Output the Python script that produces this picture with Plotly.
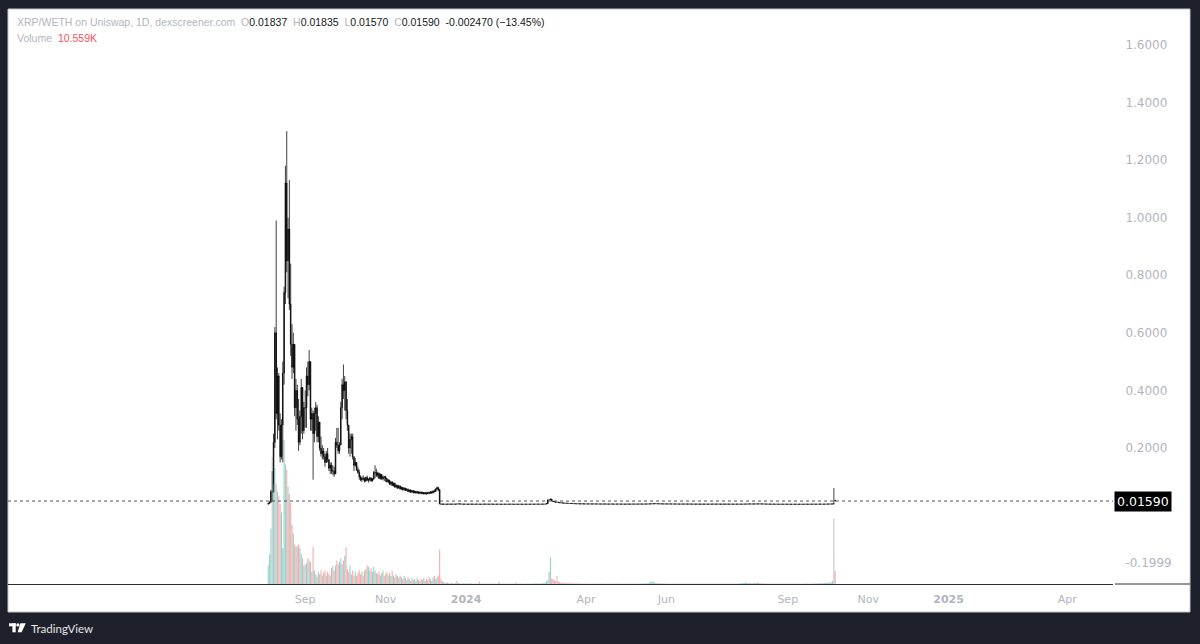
import pandas as pd
import plotly.graph_objects as go

# ---------------- data ----------------
start_date = "2023-08-04"

# Active trading period (Aug 4 2023 .. Dec 12 2023), daily candles
active_open = [
    0.005, 0.008, 0.012, 0.048, 0.048, 0.220, 0.600, 0.320, 0.450, 0.280,
    0.170, 0.280, 0.460, 0.740, 1.120, 0.850, 0.960, 0.700, 0.560, 0.480,
    0.560, 0.340, 0.400, 0.300, 0.220, 0.310, 0.410, 0.260, 0.340, 0.340,
    0.450, 0.420, 0.500, 0.300, 0.320, 0.250, 0.320, 0.340, 0.240, 0.290,
    0.200, 0.180, 0.190, 0.170, 0.150, 0.180, 0.160, 0.130, 0.140, 0.120,
    0.120, 0.110, 0.220, 0.210, 0.190, 0.210, 0.340, 0.420, 0.400, 0.430,
    0.330, 0.280, 0.200, 0.230, 0.240, 0.170, 0.140, 0.150, 0.125, 0.115,
    0.100, 0.090, 0.095, 0.092, 0.085, 0.098, 0.088, 0.090, 0.096, 0.086,
    0.092, 0.115, 0.115, 0.105, 0.112, 0.095, 0.108, 0.093, 0.100, 0.100,
    0.094, 0.083, 0.088, 0.075, 0.082, 0.070, 0.078, 0.065, 0.070, 0.062,
    0.068, 0.058, 0.063, 0.055, 0.060, 0.053, 0.057, 0.049, 0.054, 0.047,
    0.052, 0.045, 0.050, 0.044, 0.048, 0.043, 0.047, 0.042, 0.046, 0.041,
    0.045, 0.041, 0.046, 0.043, 0.048, 0.044, 0.051, 0.049, 0.058, 0.062,
    0.055,
]
active_high = [
    0.010, 0.015, 0.055, 0.120, 0.250, 0.620, 0.990, 0.480, 0.460, 0.320,
    0.300, 0.500, 0.760, 1.180, 1.300, 1.000, 1.130, 0.840, 0.630, 0.600,
    0.560, 0.440, 0.420, 0.370, 0.330, 0.440, 0.410, 0.360, 0.400, 0.480,
    0.500, 0.540, 0.500, 0.340, 0.330, 0.340, 0.360, 0.350, 0.310, 0.290,
    0.240, 0.210, 0.200, 0.180, 0.190, 0.200, 0.160, 0.150, 0.150, 0.140,
    0.135, 0.235, 0.270, 0.270, 0.220, 0.360, 0.440, 0.490, 0.450, 0.430,
    0.370, 0.280, 0.250, 0.250, 0.250, 0.170, 0.165, 0.150, 0.135, 0.125,
    0.105, 0.100, 0.105, 0.098, 0.100, 0.104, 0.095, 0.100, 0.098, 0.096,
    0.120, 0.140, 0.128, 0.118, 0.115, 0.112, 0.110, 0.105, 0.102, 0.104,
    0.096, 0.092, 0.090, 0.085, 0.084, 0.080, 0.079, 0.074, 0.072, 0.072,
    0.070, 0.066, 0.065, 0.064, 0.062, 0.060, 0.059, 0.056, 0.056, 0.054,
    0.053, 0.052, 0.051, 0.050, 0.049, 0.049, 0.048, 0.048, 0.047, 0.047,
    0.046, 0.048, 0.047, 0.050, 0.049, 0.053, 0.056, 0.060, 0.066, 0.065,
    0.058,
]
active_low = [
    0.004, 0.006, 0.010, 0.013, 0.045, 0.200, 0.300, 0.230, 0.260, 0.150,
    0.160, 0.150, 0.420, 0.700, 0.810, 0.720, 0.680, 0.520, 0.440, 0.460,
    0.310, 0.260, 0.280, 0.190, 0.210, 0.250, 0.230, 0.250, 0.270, 0.270,
    0.380, 0.400, 0.260, 0.260, 0.090, 0.220, 0.260, 0.220, 0.220, 0.190,
    0.170, 0.160, 0.160, 0.135, 0.150, 0.150, 0.120, 0.110, 0.110, 0.105,
    0.100, 0.110, 0.200, 0.180, 0.180, 0.210, 0.300, 0.370, 0.330, 0.300,
    0.260, 0.180, 0.170, 0.180, 0.160, 0.120, 0.135, 0.120, 0.110, 0.090,
    0.085, 0.082, 0.088, 0.080, 0.083, 0.086, 0.080, 0.085, 0.082, 0.084,
    0.090, 0.095, 0.100, 0.098, 0.092, 0.090, 0.090, 0.088, 0.085, 0.082,
    0.080, 0.078, 0.072, 0.070, 0.068, 0.066, 0.062, 0.060, 0.058, 0.058,
    0.055, 0.055, 0.052, 0.052, 0.050, 0.050, 0.046, 0.046, 0.044, 0.044,
    0.042, 0.043, 0.041, 0.042, 0.040, 0.041, 0.039, 0.040, 0.038, 0.039,
    0.038, 0.040, 0.039, 0.042, 0.041, 0.043, 0.046, 0.048, 0.052, 0.050,
    0.005,
]
active_close = [
    0.008, 0.012, 0.048, 0.048, 0.220, 0.600, 0.320, 0.450, 0.280, 0.170,
    0.280, 0.460, 0.740, 1.120, 0.850, 0.960, 0.700, 0.560, 0.480, 0.560,
    0.340, 0.400, 0.300, 0.220, 0.310, 0.410, 0.260, 0.340, 0.340, 0.450,
    0.420, 0.500, 0.300, 0.320, 0.250, 0.320, 0.340, 0.240, 0.290, 0.200,
    0.180, 0.190, 0.170, 0.150, 0.180, 0.160, 0.130, 0.140, 0.120, 0.120,
    0.110, 0.220, 0.210, 0.190, 0.210, 0.340, 0.420, 0.400, 0.430, 0.330,
    0.280, 0.200, 0.230, 0.240, 0.170, 0.140, 0.150, 0.125, 0.115, 0.100,
    0.090, 0.095, 0.092, 0.085, 0.098, 0.088, 0.090, 0.096, 0.086, 0.092,
    0.115, 0.115, 0.105, 0.112, 0.095, 0.108, 0.093, 0.100, 0.100, 0.094,
    0.083, 0.088, 0.075, 0.082, 0.070, 0.078, 0.065, 0.070, 0.062, 0.068,
    0.058, 0.063, 0.055, 0.060, 0.053, 0.057, 0.049, 0.054, 0.047, 0.052,
    0.045, 0.050, 0.044, 0.048, 0.043, 0.047, 0.042, 0.046, 0.041, 0.045,
    0.041, 0.046, 0.043, 0.048, 0.044, 0.051, 0.049, 0.058, 0.062, 0.055,
    0.006,
]
active_volume_k = [
    15, 24, 45, 103, 81, 94, 81, 75, 71, 65,
    58, 29, 117, 97, 93, 79, 73, 66, 48, 41,
    32, 30, 31, 32, 29, 24, 21, 15, 16, 17,
    21, 19, 18, 10, 30, 11, 8, 6, 10, 8,
    11, 7, 9, 11, 6.5, 10, 8, 7, 13, 15,
    11, 15, 19, 16, 18, 21, 16, 19, 23, 30,
    12, 10, 15, 8, 11, 7, 10, 6.5, 9, 11,
    8, 10, 7, 11, 12, 15, 14, 11, 13, 10,
    14, 11, 9, 8, 10, 7, 9, 11, 6.5, 8,
    10, 7, 9, 6.5, 11, 7, 5.5, 8, 6.5, 5,
    7, 5.5, 4, 6.5, 5, 3.2, 5.5, 4, 2.5, 5,
    3.2, 4, 2.5, 5, 3.2, 2.5, 4, 3.2, 5, 2.5,
    4, 3.2, 5.5, 4, 2.5, 5, 6.5, 4, 5.5, 7,
    28,
]

# Quiet period (Dec 13 2023 .. Oct 5 2024): daily closes and volumes
flat_close = [
    0.0050, 0.0055, 0.0050, 0.0052, 0.0048, 0.0050, 0.0053, 0.0050, 0.0049, 0.0051,
    0.0050, 0.0052, 0.0055, 0.0060, 0.0057, 0.0054, 0.0052, 0.0050, 0.0051, 0.0049,
    0.0048, 0.0050, 0.0052, 0.0050, 0.0049, 0.0047, 0.0049, 0.0051, 0.0050, 0.0048,
    0.0047, 0.0049, 0.0050, 0.0052, 0.0051, 0.0049, 0.0048, 0.0050, 0.0051, 0.0049,
    0.0048, 0.0047, 0.0049, 0.0050, 0.0048, 0.0047, 0.0046, 0.0048, 0.0049, 0.0048,
    0.0047, 0.0048, 0.0050, 0.0049, 0.0048, 0.0047, 0.0046, 0.0048, 0.0047, 0.0046,
    0.0047, 0.0048, 0.0047, 0.0046, 0.0048, 0.0049, 0.0048, 0.0047, 0.0049, 0.0050,
    0.0048, 0.0049, 0.0050, 0.0051, 0.0049, 0.0048, 0.0050, 0.0051, 0.0052, 0.0055,
    0.0065, 0.0200, 0.0200, 0.0230, 0.0160, 0.0140, 0.0130, 0.0120, 0.0120, 0.0110,
    0.0100, 0.0095, 0.0090, 0.0088, 0.0085, 0.0082, 0.0080, 0.0078, 0.0075, 0.0072,
    0.0070, 0.0068, 0.0066, 0.0065, 0.0063, 0.0062, 0.0060, 0.0061, 0.0060, 0.0059,
    0.0058, 0.0059, 0.0058, 0.0057, 0.0056, 0.0057, 0.0058, 0.0057, 0.0056, 0.0055,
    0.0056, 0.0055, 0.0054, 0.0055, 0.0056, 0.0055, 0.0054, 0.0053, 0.0054, 0.0055,
    0.0054, 0.0053, 0.0052, 0.0053, 0.0054, 0.0053, 0.0052, 0.0053, 0.0052, 0.0051,
    0.0052, 0.0053, 0.0052, 0.0051, 0.0052, 0.0053, 0.0054, 0.0053, 0.0052, 0.0053,
    0.0054, 0.0055, 0.0054, 0.0053, 0.0054, 0.0055, 0.0056, 0.0057, 0.0058, 0.0060,
    0.0062, 0.0065, 0.0068, 0.0066, 0.0064, 0.0063, 0.0062, 0.0060, 0.0059, 0.0058,
    0.0057, 0.0058, 0.0057, 0.0056, 0.0057, 0.0056, 0.0055, 0.0056, 0.0055, 0.0054,
    0.0055, 0.0054, 0.0053, 0.0054, 0.0055, 0.0054, 0.0053, 0.0054, 0.0053, 0.0052,
    0.0053, 0.0052, 0.0051, 0.0052, 0.0053, 0.0052, 0.0051, 0.0052, 0.0051, 0.0050,
    0.0051, 0.0052, 0.0051, 0.0050, 0.0051, 0.0052, 0.0053, 0.0052, 0.0051, 0.0052,
    0.0053, 0.0052, 0.0051, 0.0052, 0.0051, 0.0050, 0.0051, 0.0052, 0.0051, 0.0050,
    0.0051, 0.0050, 0.0049, 0.0050, 0.0051, 0.0050, 0.0049, 0.0050, 0.0051, 0.0052,
    0.0053, 0.0054, 0.0055, 0.0056, 0.0057, 0.0056, 0.0055, 0.0056, 0.0057, 0.0058,
    0.0059, 0.0060, 0.0058, 0.0057, 0.0056, 0.0055, 0.0054, 0.0053, 0.0052, 0.0051,
    0.0050, 0.0049, 0.0050, 0.0049, 0.0048, 0.0049, 0.0048, 0.0047, 0.0048, 0.0047,
    0.0048, 0.0049, 0.0048, 0.0047, 0.0048, 0.0047, 0.0046, 0.0047, 0.0048, 0.0047,
    0.0046, 0.0047, 0.0048, 0.0047, 0.0046, 0.0047, 0.0048, 0.0049, 0.0048, 0.0047,
    0.0048, 0.0049, 0.0050, 0.0049, 0.0048, 0.0049, 0.0050, 0.0051, 0.0050, 0.0049,
    0.0050, 0.0051, 0.0052, 0.0053, 0.0054, 0.0055, 0.0056, 0.0058,
]
flat_volume_k = [
    4, 2.5, 1.5, 1, 0.8, 1.2, 0.6, 0.5, 0.8, 0.6,
    0.5, 0.7, 2.5, 1, 0.6, 0.5, 0.4, 0.6, 0.5, 0.4,
    0.5, 0.4, 0.6, 0.5, 0.3, 0.4, 0.5, 0.4, 0.3, 2.2,
    0.4, 0.3, 0.5, 0.4, 0.3, 0.4, 0.3, 0.5, 0.4, 0.3,
    0.3, 0.4, 0.3, 0.5, 1.8, 0.4, 0.3, 0.4, 0.3, 0.4,
    0.3, 0.4, 0.5, 0.3, 0.4, 0.3, 0.4, 1.5, 0.3, 0.4,
    0.5, 0.4, 0.3, 0.4, 0.3, 0.4, 0.5, 0.4, 0.3, 0.4,
    0.5, 0.4, 0.6, 0.5, 0.4, 0.6, 0.5, 0.7, 0.8, 1.2,
    2, 3.5, 10, 22, 4.5, 4, 3, 2.5, 6.5, 2,
    1.5, 1.2, 1, 0.8, 1, 0.7, 0.6, 0.8, 0.6, 0.5,
    0.6, 0.5, 0.4, 0.5, 0.6, 0.4, 0.5, 0.4, 0.3, 0.4,
    0.5, 0.4, 0.3, 0.4, 0.3, 0.5, 0.4, 0.3, 0.4, 0.3,
    0.4, 0.3, 0.4, 0.5, 0.3, 0.4, 0.3, 0.4, 0.3, 0.4,
    0.3, 0.4, 0.3, 0.4, 0.5, 0.3, 0.4, 0.3, 0.4, 0.3,
    0.4, 0.3, 0.4, 0.3, 0.4, 0.3, 0.4, 0.5, 0.4, 0.3,
    0.4, 0.5, 0.4, 0.5, 0.6, 0.5, 0.7, 0.8, 1, 1.5,
    2.2, 1.8, 1.2, 0.8, 0.7, 0.6, 0.5, 0.6, 0.5, 0.4,
    0.4, 0.5, 0.4, 0.3, 0.4, 0.3, 0.4, 0.3, 0.4, 0.3,
    0.4, 0.3, 0.4, 0.3, 0.4, 0.3, 0.4, 0.3, 0.4, 0.3,
    0.3, 0.4, 0.3, 0.4, 0.3, 0.4, 0.3, 0.4, 0.3, 0.4,
    0.3, 0.4, 0.3, 0.4, 0.3, 0.4, 0.3, 0.4, 0.3, 0.4,
    0.3, 0.4, 0.3, 0.4, 0.3, 0.4, 0.3, 0.4, 0.3, 0.4,
    0.3, 0.4, 0.3, 0.4, 0.3, 0.4, 0.5, 0.6, 0.7, 0.9,
    1.1, 1.3, 1.2, 1, 0.9, 0.8, 0.7, 0.8, 0.9, 1,
    1.2, 1, 0.8, 0.7, 0.6, 0.5, 0.4, 0.5, 0.4, 0.3,
    0.4, 0.3, 0.4, 0.3, 0.4, 0.3, 0.4, 0.3, 0.4, 0.3,
    0.4, 0.3, 0.4, 0.3, 0.4, 0.3, 0.4, 0.3, 0.4, 0.3,
    0.4, 0.3, 0.4, 0.3, 0.4, 0.3, 0.4, 0.5, 0.4, 0.3,
    0.4, 0.5, 0.4, 0.5, 0.6, 0.5, 0.6, 0.7, 0.8, 0.7,
    0.8, 0.9, 1, 1.1, 1.2, 1.3, 1.5, 2.5,
]

# Last two sessions (Oct 6 - Oct 7 2024)
tail_open = [0.0058, 0.01837]
tail_high = [0.0610, 0.01835]
tail_low = [0.0055, 0.01570]
tail_close = [0.0058, 0.01590]
tail_volume_k = [53.0, 10.559]

price_ticks = [-0.1999, 0.2, 0.4, 0.6, 0.8, 1.0, 1.2, 1.4, 1.6]
time_ticks = ["2023-09-01", "2023-11-01", "2024-01-01", "2024-04-01", "2024-06-01",
              "2024-09-01", "2024-11-01", "2025-01-01", "2025-04-01"]
time_tick_labels = ["Sep", "Nov", "<b>2024</b>", "Apr", "Jun", "Sep", "Nov", "<b>2025</b>", "Apr"]
symbol_title = "XRP/WETH on Uniswap, 1D, dexscreener.com"

# ---------------- assemble series ----------------
opens, highs, lows, closes = list(active_open), list(active_high), list(active_low), list(active_close)
prev = closes[-1]
for c in flat_close:
    opens.append(prev)
    closes.append(c)
    highs.append(max(prev, c))
    lows.append(min(prev, c))
    prev = c
opens += tail_open
highs += tail_high
lows += tail_low
closes += tail_close
volumes_k = list(active_volume_k) + list(flat_volume_k) + list(tail_volume_k)
assert len(active_open) == len(active_high) == len(active_low) == len(active_close) == len(active_volume_k)
assert len(flat_close) == len(flat_volume_k)
assert len(opens) == len(volumes_k)

dates = pd.date_range(start_date, periods=len(closes), freq="D")

UP = "rgba(38,166,154,0.5)"
DOWN = "rgba(239,83,80,0.5)"
FLAT = "rgba(150,153,162,0.6)"
vol_colors = [UP if c > o else (DOWN if c < o else FLAT) for o, c in zip(opens, closes)]

# ---------------- figure geometry helpers ----------------
W, H = 1200, 644
ML, MR, MT, MB = 8, 87, 9, 60
PW, PH = W - ML - MR, H - MT - MB


def px_x(px):
    return (px - ML) / PW


def px_y(py):
    return (H - MB - py) / PH


MUTED = "#b2b5be"
DARK = "#131722"
FRAME = "#1e212b"

fig = go.Figure()
fig.add_trace(go.Bar(
    x=dates, y=volumes_k, yaxis="y2",
    marker=dict(color=vol_colors, line=dict(width=0)),
    width=0.8 * 86400000, hoverinfo="skip",
))
fig.add_trace(go.Candlestick(
    x=dates, open=opens, high=highs, low=lows, close=closes,
    increasing=dict(line=dict(color="#000000", width=0.75), fillcolor="#000000"),
    decreasing=dict(line=dict(color="#000000", width=0.75), fillcolor="#000000"),
    whiskerwidth=0, hoverinfo="skip",
))

last_o, last_h, last_l, last_c = opens[-1], highs[-1], lows[-1], closes[-1]
chg = last_c - last_o
pct = chg / last_o * 100
sp = "\u00a0\u00a0"
sign = "\u2212" if pct < 0 else "+"
line1 = (
    f'<span style="color:{MUTED}">{symbol_title}</span>{sp}'
    f'<span style="color:{MUTED}">O</span><span style="color:{DARK}">{last_o:.5f}</span>{sp}'
    f'<span style="color:{MUTED}">H</span><span style="color:{DARK}">{last_h:.5f}</span>{sp}'
    f'<span style="color:{MUTED}">L</span><span style="color:{DARK}">{last_l:.5f}</span>{sp}'
    f'<span style="color:{MUTED}">C</span><span style="color:{DARK}">{last_c:.5f}</span>{sp}'
    f'<span style="color:{DARK}">{chg:.6f} ({sign}{abs(pct):.2f}%)</span>'
)
line2 = (
    f'<span style="color:{MUTED}">Volume</span>{sp}'
    f'<span style="color:#f7525f">{volumes_k[-1]:.3f}K</span>'
)

annotations = [
    dict(xref="paper", yref="paper", x=px_x(15), y=px_y(22), xanchor="left", yanchor="middle",
         text=line1, showarrow=False, font=dict(family="Liberation Sans", size=10.5)),
    dict(xref="paper", yref="paper", x=px_x(15), y=px_y(37.5), xanchor="left", yanchor="middle",
         text=line2, showarrow=False, font=dict(family="Liberation Sans", size=10.5)),
    dict(xref="paper", yref="y", x=1, y=last_c, xanchor="left", yanchor="middle", xshift=1,
         text=f"{last_c:.5f}", showarrow=False, bgcolor="#000000", borderpad=2,
         font=dict(family="DejaVu Sans", size=12.5, color="#ffffff")),
    dict(xref="paper", yref="paper", x=px_x(29), y=px_y(628), xanchor="left", yanchor="middle",
         text="TradingView", showarrow=False,
         font=dict(family="Lato", size=11.5, color="#e6e7ea")),
]

shapes = [
    # white chart card
    dict(type="rect", xref="paper", yref="paper", x0=px_x(8), x1=px_x(1190), y0=px_y(612), y1=px_y(9),
         fillcolor="#ffffff", line=dict(color="#c3c6cd", width=1), layer="below"),
    # bottom line under the price scale
    dict(type="line", xref="paper", yref="paper", x0=px_x(1115), x1=px_x(1190), y0=0, y1=0,
         line=dict(color="#2a2e39", width=1)),
    # last price dotted line
    dict(type="line", xref="paper", yref="y", x0=0, x1=1, y0=last_c, y1=last_c,
         line=dict(color="#50535e", width=1, dash="dot")),
    # TradingView logo
    dict(type="rect", xref="paper", yref="paper", x0=px_x(9), x1=px_x(15.7), y0=px_y(626.3), y1=px_y(623.3),
         fillcolor="#ffffff", line=dict(width=0)),
    dict(type="rect", xref="paper", yref="paper", x0=px_x(12.4), x1=px_x(15.7), y0=px_y(632.3), y1=px_y(623.3),
         fillcolor="#ffffff", line=dict(width=0)),
    dict(type="circle", xref="paper", yref="paper", x0=px_x(16.3), x1=px_x(19.5), y0=px_y(626.6), y1=px_y(623.3),
         fillcolor="#ffffff", line=dict(width=0)),
    dict(type="path", xref="paper", yref="paper",
         path=(f"M {px_x(20.4)},{px_y(623.3)} L {px_x(25.8)},{px_y(623.3)} "
               f"L {px_x(21.6)},{px_y(632.3)} L {px_x(17.6)},{px_y(632.3)} Z"),
         fillcolor="#ffffff", line=dict(width=0)),
]

fig.update_layout(
    width=W, height=H,
    margin=dict(l=ML, r=MR, t=MT, b=MB, pad=0),
    paper_bgcolor=FRAME, plot_bgcolor="#ffffff",
    showlegend=False, hovermode=False,
    font=dict(family="DejaVu Sans", color=MUTED),
    xaxis=dict(
        type="date", range=["2023-01-18 14:00", "2025-05-05 17:00"],
        tickvals=time_ticks, ticktext=time_tick_labels,
        tickfont=dict(family="DejaVu Sans", size=11, color=MUTED),
        ticks="outside", ticklen=5, tickcolor="rgba(0,0,0,0)",
        showgrid=False, zeroline=False, showline=True, linecolor="#2a2e39", linewidth=1,
        rangeslider=dict(visible=False), fixedrange=True,
    ),
    yaxis=dict(
        side="right", range=[-0.2722, 1.7243],
        tickvals=price_ticks, ticktext=[f"{v:.4f}" for v in price_ticks],
        tickfont=dict(family="DejaVu Sans", size=12, color=MUTED),
        ticks="outside", ticklen=9, tickcolor="rgba(0,0,0,0)",
        showgrid=False, zeroline=False, showline=False, fixedrange=True,
    ),
    yaxis2=dict(overlaying="y", range=[0, 467], visible=False, fixedrange=True),
    annotations=annotations,
    shapes=shapes,
    bargap=0.25,
)

fig.write_html("out.html", config={"displayModeBar": False},
               post_script="document.body.style.margin='0';document.body.style.background='%s';" % FRAME)
